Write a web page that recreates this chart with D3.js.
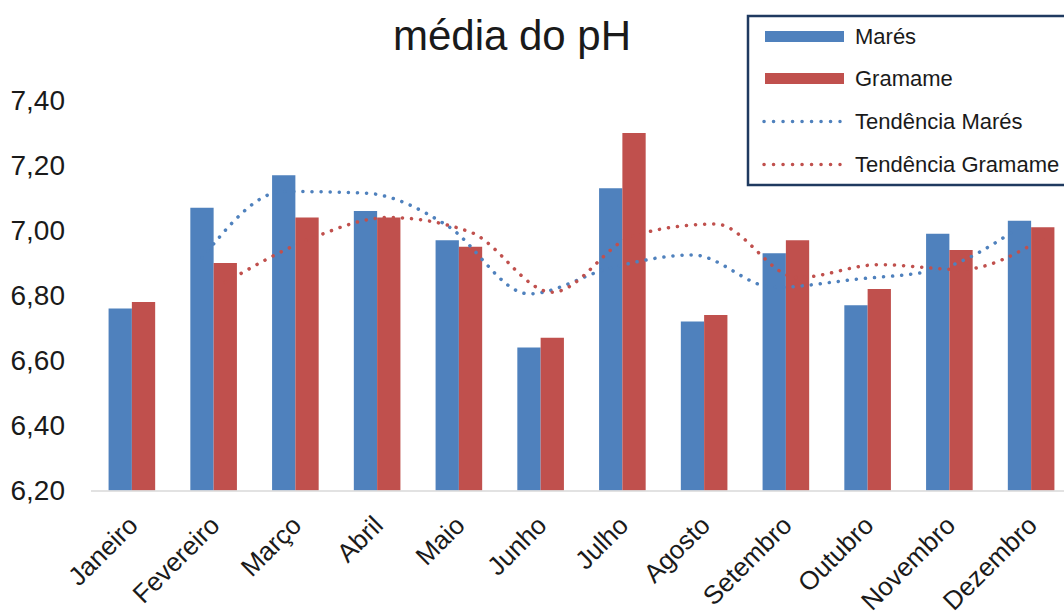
<!DOCTYPE html>
<html>
<head>
<meta charset="utf-8">
<script src="https://cdn.jsdelivr.net/npm/d3@7"></script>
<style>
  body { margin: 0; background: #fff; }
  svg text { font-family: "Liberation Sans", Arial, sans-serif; fill: #1a1a1a; }
</style>
</head>
<body>
<script>
// data
const months = ['Janeiro', 'Fevereiro', 'Março', 'Abril', 'Maio', 'Junho', 'Julho', 'Agosto', 'Setembro', 'Outubro', 'Novembro', 'Dezembro'];
const mares = [6.76, 7.07, 7.17, 7.06, 6.97, 6.64, 7.13, 6.72, 6.93, 6.77, 6.99, 7.03];
const gramame = [6.78, 6.90, 7.04, 7.04, 6.95, 6.67, 7.30, 6.74, 6.97, 6.82, 6.94, 7.01];
// trend lines (2-period moving average, as drawn)
const tendMares = [null, 6.915, 7.12, 7.115, 7.015, 6.805, 6.885, 6.925, 6.825, 6.85, 6.88, 7.01];
const tendGramame = [null, 6.84, 6.97, 7.04, 6.995, 6.81, 6.985, 7.02, 6.855, 6.895, 6.88, 6.975];
const yTicks = [6.2, 6.4, 6.6, 6.8, 7.0, 7.2, 7.4];

const series = ['Marés', 'Gramame'];
const colors = {'Marés': '#4f81bd', 'Gramame': '#c0504d'};

const width = 1064;
const height = 612;

const svg = d3.select('body')
    .append('svg')
    .attr('width', width)
    .attr('height', height);

const x = d3.scaleBand()
    .domain(months)
    .range([91, 1072])
    .paddingInner(0.43)
    .paddingOuter(0.215);

const xSub = d3.scaleBand()
    .domain(series)
    .range([0, x.bandwidth()]);

const y = d3.scaleLinear()
    .domain([6.2, 7.4])
    .range([490.5, 100.5]);

const ptBR = d3.formatLocale({decimal: ',', thousands: '.', grouping: [3], currency: ['R$', '']});

// title
svg.append('text')
    .attr('x', 512)
    .attr('y', 50)
    .attr('text-anchor', 'middle')
    .style('font-size', '42px')
    .text('média do pH');

// y axis labels only
const yAxis = svg.append('g')
    .attr('transform', 'translate(66,0)')
    .call(d3.axisLeft(y).tickValues(yTicks).tickSize(0).tickPadding(1).tickFormat(ptBR.format('.2f')));
yAxis.select('.domain').remove();
yAxis.selectAll('text')
    .style('font-size', '28px')
    .style('font-family', '"Liberation Sans", Arial, sans-serif')
    .attr('fill', '#1a1a1a');

// bars
const rows = months.map((m, i) => ({month: m, values: [
    {key: 'Marés', value: mares[i]},
    {key: 'Gramame', value: gramame[i]}
]}));

svg.append('g')
    .selectAll('g')
    .data(rows)
    .enter()
    .append('g')
    .attr('transform', (d) => 'translate(' + x(d.month) + ',0)')
    .selectAll('rect')
    .data((d) => d.values)
    .enter()
    .append('rect')
    .attr('x', (d) => xSub(d.key))
    .attr('y', (d) => y(d.value))
    .attr('width', xSub.bandwidth())
    .attr('height', (d) => y(6.2) - y(d.value))
    .attr('fill', (d) => colors[d.key]);

// baseline
svg.append('line')
    .attr('x1', 91)
    .attr('x2', width)
    .attr('y1', y(6.2) + 0.5)
    .attr('y2', y(6.2) + 0.5)
    .attr('stroke', '#d9d9d9')
    .attr('stroke-width', 1.5);

// trend lines, placed at each series' bar centre
const trends = [
    {key: 'Marés', values: tendMares},
    {key: 'Gramame', values: tendGramame}
];

const line = d3.line()
    .defined((d) => d.v !== null)
    .x((d) => d.x)
    .y((d) => y(d.v))
    .curve(d3.curveMonotoneX);

trends.forEach((t) => {
    const pts = months.map((m, i) => ({x: x(m) + xSub(t.key) + xSub.bandwidth() / 2, v: t.values[i]}));
    svg.append('path')
        .datum(pts)
        .attr('d', line)
        .attr('fill', 'none')
        .attr('stroke', colors[t.key])
        .attr('stroke-width', 3.5)
        .attr('stroke-linecap', 'round')
        .attr('stroke-dasharray', '0.1 9');
});

// x labels
svg.append('g')
    .selectAll('text')
    .data(months)
    .enter()
    .append('text')
    .attr('transform', (d) => 'translate(' + (x(d) + x.bandwidth() / 2 + 7.5) + ',527) rotate(-45)')
    .attr('text-anchor', 'end')
    .style('font-size', '26px')
    .text((d) => d);

// legend
const legend = svg.append('g');
legend.append('rect')
    .attr('x', 748)
    .attr('y', 16)
    .attr('width', 330)
    .attr('height', 169)
    .attr('fill', '#fff')
    .attr('stroke', '#1f3a60')
    .attr('stroke-width', 2.5);

const legendItems = [
    {label: 'Marés', color: colors['Marés'], type: 'bar', y: 36.5},
    {label: 'Gramame', color: colors['Gramame'], type: 'bar', y: 78.5},
    {label: 'Tendência Marés', color: colors['Marés'], type: 'dot', y: 121.5},
    {label: 'Tendência Gramame', color: colors['Gramame'], type: 'dot', y: 164.5}
];

legendItems.forEach((d) => {
    if (d.type === 'bar') {
        legend.append('rect')
            .attr('x', 765)
            .attr('y', d.y - 5.5)
            .attr('width', 79)
            .attr('height', 11)
            .attr('fill', d.color);
    } else {
        legend.append('line')
            .attr('x1', 764)
            .attr('x2', 840)
            .attr('y1', d.y)
            .attr('y2', d.y)
            .attr('stroke', d.color)
            .attr('stroke-width', 3.5)
            .attr('stroke-linecap', 'round')
            .attr('stroke-dasharray', '0.1 9.4');
    }
    legend.append('text')
        .attr('x', 855)
        .attr('y', d.y)
        .attr('dy', '0.35em')
        .style('font-size', '22px')
        .text(d.label);
});
</script>
</body>
</html>
